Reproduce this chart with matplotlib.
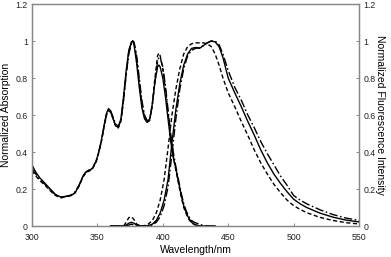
import matplotlib
matplotlib.use("Agg")
import matplotlib.pyplot as plt

plt.rcParams['font.family'] = ['Liberation Sans', 'DejaVu Sans']

# absorption spectra (shared wavelength grid)
wl_abs = [300, 303, 306, 310, 314, 318, 322, 326, 330, 333,
          336, 339, 341, 343, 346, 349, 351, 353, 355, 357,
          358.5, 360, 362, 364, 366, 368, 370, 372, 374, 376,
          377, 378, 380, 382, 384, 386, 388, 390, 392, 394,
          396, 397, 398, 400, 402, 404, 406, 408, 410, 412,
          414, 416, 418, 420, 422, 424, 426, 428, 432, 440]
abs_solid = [0.33, 0.29, 0.26, 0.23, 0.20, 0.17, 0.157, 0.16, 0.165, 0.18,
             0.22, 0.27, 0.29, 0.30, 0.31, 0.35, 0.40, 0.46, 0.54, 0.61,
             0.635, 0.62, 0.58, 0.54, 0.535, 0.58, 0.70, 0.84, 0.95, 0.995,
             1.0, 0.98, 0.88, 0.75, 0.64, 0.58, 0.56, 0.58, 0.66, 0.78,
             0.86, 0.87, 0.86, 0.80, 0.70, 0.58, 0.46, 0.37, 0.31, 0.24,
             0.17, 0.11, 0.07, 0.04, 0.02, 0.01, 0.005, 0, 0, 0]
abs_dash = [0.30, 0.27, 0.245, 0.22, 0.19, 0.165, 0.152, 0.158, 0.165, 0.18,
            0.215, 0.265, 0.285, 0.295, 0.305, 0.345, 0.395, 0.455, 0.53, 0.60,
            0.625, 0.615, 0.58, 0.54, 0.53, 0.565, 0.68, 0.82, 0.94, 0.99,
            1.0, 0.99, 0.91, 0.78, 0.66, 0.59, 0.56, 0.57, 0.66, 0.80,
            0.92, 0.935, 0.92, 0.85, 0.74, 0.61, 0.48, 0.38, 0.30, 0.23,
            0.16, 0.10, 0.065, 0.035, 0.018, 0.008, 0.003, 0, 0, 0]
abs_dashdot = [0.31, 0.28, 0.25, 0.225, 0.195, 0.168, 0.155, 0.16, 0.168, 0.185,
               0.22, 0.27, 0.29, 0.30, 0.31, 0.35, 0.40, 0.455, 0.535, 0.605,
               0.63, 0.625, 0.59, 0.55, 0.54, 0.57, 0.68, 0.82, 0.93, 0.985,
               1.0, 0.995, 0.92, 0.80, 0.68, 0.60, 0.57, 0.575, 0.65, 0.78,
               0.89, 0.91, 0.91, 0.86, 0.76, 0.63, 0.50, 0.40, 0.32, 0.25,
               0.18, 0.12, 0.08, 0.05, 0.03, 0.02, 0.015, 0.01, 0.0, 0]

# fluorescence spectra (shared wavelength grid)
wl_fl = [360, 370, 372, 374, 376, 378, 380, 384, 388, 392,
         395, 398, 401, 404, 407, 410, 413, 416, 419, 422,
         425, 428, 431, 434, 437, 440, 443, 446, 450, 455,
         460, 465, 470, 475, 480, 485, 490, 495, 500, 505,
         510, 520, 530, 540, 550]
fl_solid = [0, 0, 0.005, 0.015, 0.02, 0.015, 0.005, 0, 0, 0.01,
            0.03, 0.07, 0.14, 0.25, 0.45, 0.63, 0.77, 0.87, 0.93, 0.96,
            0.965, 0.96, 0.975, 0.99, 1.0, 0.995, 0.97, 0.91, 0.80, 0.72,
            0.645, 0.565, 0.49, 0.41, 0.34, 0.28, 0.23, 0.185, 0.145, 0.12,
            0.10, 0.07, 0.048, 0.032, 0.022]
fl_dash = [0, 0, 0.02, 0.045, 0.05, 0.035, 0.01, 0, 0.005, 0.03,
           0.07, 0.14, 0.25, 0.42, 0.60, 0.74, 0.85, 0.93, 0.97, 0.985,
           0.99, 0.99, 0.99, 0.985, 0.97, 0.93, 0.87, 0.80, 0.72, 0.645,
           0.565, 0.49, 0.41, 0.34, 0.28, 0.225, 0.18, 0.14, 0.11, 0.09,
           0.072, 0.047, 0.03, 0.018, 0.011]
fl_dashdot = [0, 0, 0, 0.005, 0.01, 0.005, 0, 0, 0, 0.005,
              0.02, 0.05, 0.11, 0.21, 0.39, 0.58, 0.74, 0.85, 0.92, 0.95,
              0.96, 0.965, 0.975, 0.99, 1.0, 1.0, 0.98, 0.93, 0.84, 0.75,
              0.68, 0.60, 0.53, 0.455, 0.39, 0.33, 0.27, 0.22, 0.165, 0.14,
              0.12, 0.088, 0.062, 0.043, 0.03]

x_ticks = [300, 350, 400, 450, 500, 550]
y_ticks = [0, 0.2, 0.4, 0.6, 0.8, 1.0, 1.2]
y_labels = ['0', '0.2', '0.4', '0.6', '0.8', '1', '1.2']

fig = plt.figure(figsize=(3.91, 2.57), dpi=100)
ax = fig.add_axes([0.0818, 0.1206, 0.8364, 0.8638])
ax2 = ax.twinx()

lw = 1.0
dash = (0, (3, 1.8))
dashdot = (0, (6, 1.8, 1.2, 1.8))

ax.plot(wl_abs, abs_solid, color='black', lw=lw)
ax.plot(wl_abs, abs_dash, color='black', lw=lw, linestyle=dash)
ax.plot(wl_abs, abs_dashdot, color='black', lw=lw, linestyle=dashdot)

ax2.plot(wl_fl, fl_solid, color='black', lw=lw)
ax2.plot(wl_fl, fl_dash, color='black', lw=lw, linestyle=dash)
ax2.plot(wl_fl, fl_dashdot, color='black', lw=lw, linestyle=dashdot)

for a in (ax, ax2):
    a.set_xlim(300, 550)
    a.set_ylim(0, 1.2)
    a.set_yticks(y_ticks)
    a.set_yticklabels(y_labels)
    for s in a.spines.values():
        s.set_color('#888888')
        s.set_linewidth(0.9)
    a.tick_params(direction='in', length=2.5, width=0.7, color='#888888',
                  labelsize=6.3, labelcolor='#222222', pad=3)

ax.tick_params(axis='x', pad=5)
ax.set_xticks(x_ticks)
ax.set_xlabel('Wavelength/nm', fontsize=7.5, labelpad=2)
ax.set_ylabel('Normalized Absorption', fontsize=7.5, labelpad=3)
ax2.set_ylabel('Normalized Fluorescence Intensity', fontsize=7.5,
               rotation=270, labelpad=7)

fig.savefig('out.png', dpi=100)
